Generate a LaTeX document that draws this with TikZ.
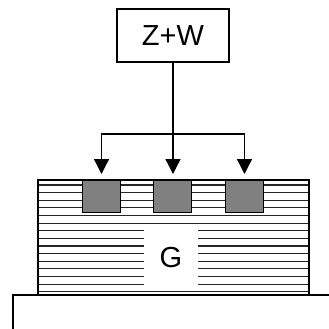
\documentclass[tikz,border=0pt]{standalone}
\usepackage{fontspec}
\setmainfont{Liberation Sans}
\usetikzlibrary{arrows.meta}
\tikzset{
  lw/.style={line width=1.3pt},
  bigfont/.style={font=\fontsize{29}{29}\selectfont},
  labelbox/.style={draw, lw, fill=white, inner sep=0pt, bigfont},
  padbox/.style={draw, lw, fill=black!50, minimum width=38pt, minimum height=32pt, inner sep=0pt},
  hatchbox/.style={draw, lw, minimum width=271pt, minimum height=115pt, inner sep=0pt},
  hatchline/.style={line width=1.1pt, black!85},
  feed/.style={lw, -{Triangle[length=15pt,width=15pt]}, shorten >=6pt},
}
\begin{document}
\begin{tikzpicture}[x=1pt,y=-1pt]
\useasboundingbox (0,0) rectangle (329,329);
% hatched layer
\foreach \k in {0,...,14} {
  \draw[hatchline] (38,185+\k*7.62) -- (309,185+\k*7.62);
}
\node[hatchbox] (layer) at (173.5,237.5) {};
\node[fill=white, minimum width=54pt, minimum height=60pt, inner sep=0pt, bigfont] (g) at (171,258) {G};
% pads
\node[padbox, anchor=north] (s1) at (101.5,180) {};
\node[padbox, anchor=north] (s2) at (172.5,180) {};
\node[padbox, anchor=north] (s3) at (244.5,180) {};
% source box
\node[labelbox, minimum width=112pt, minimum height=53pt] (zw) at (173,35.5) {Z+W};
% connectors
\coordinate (j) at (173,134);
\draw[feed] (zw.south) -- (zw.south |- s2.north);
\draw[feed] (j) -| (s1.north);
\draw[feed] (j) -| (s3.north);
% base
\coordinate (bl) at (13,329);
\coordinate (br) at (329,295);
\draw[lw] (bl) |- (br);
\end{tikzpicture}
\end{document}
